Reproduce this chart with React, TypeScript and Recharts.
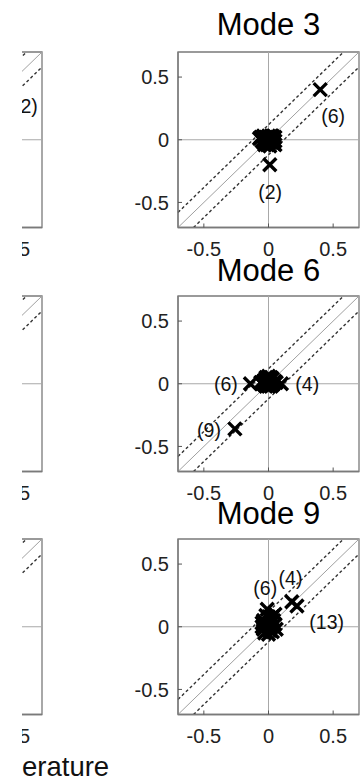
import React from "react"
import { ReferenceArea, ReferenceLine, Scatter, ScatterChart, XAxis, YAxis } from "recharts"

// panel titles and shared tick values
const modeTitles = ["Mode 3", "Mode 6", "Mode 9"]
const axisTicks = [-0.5, 0, 0.5]
const axisDomain = [-0.7, 0.7]

// y = x and the +/- band around it
const identityLine = [{ x: -0.7, y: -0.7 }, { x: 0.7, y: 0.7 }]
const upperBand = [{ x: -0.7, y: -0.58 }, { x: 0.58, y: 0.7 }]
const lowerBand = [{ x: -0.58, y: -0.7 }, { x: 0.7, y: 0.58 }]

// mode 3
const mode3Points = [
  { x: 0, y: 0 }, { x: -0.06, y: 0.02 }, { x: 0.05, y: 0.02 }, { x: -0.04, y: -0.02 },
  { x: 0.04, y: -0.03 }, { x: 0.02, y: 0.03 }, { x: -0.02, y: 0.02 }, { x: 0.03, y: -0.01 },
  { x: -0.07, y: 0.01 }, { x: 0.01, y: -0.05 }, { x: -0.03, y: -0.04 }, { x: 0.05, y: -0.01 },
  { x: -0.05, y: -0.01 }, { x: 0.0, y: 0.03 }, { x: 0.0, y: -0.03 }, { x: 0.03, y: 0.03 },
  { x: -0.04, y: 0.03 }, { x: 0.05, y: -0.04 }, { x: -0.01, y: -0.04 }, { x: 0.02, y: -0.02 },
  { x: -0.02, y: 0.0 }, { x: 0.01, y: 0.01 },
  { x: 0.4, y: 0.4 }, { x: 0.01, y: -0.2 },
]
const mode3Labels = [
  { x: 0.5, y: 0.19, text: "(6)" },
  { x: 0.013, y: -0.42, text: "(2)" },
]

// mode 6
const mode6Points = [
  { x: 0, y: 0 }, { x: -0.04, y: 0.02 }, { x: 0.05, y: 0.02 }, { x: 0.02, y: 0.05 },
  { x: -0.02, y: 0.05 }, { x: 0.03, y: -0.01 }, { x: -0.03, y: -0.01 }, { x: 0.01, y: 0.03 },
  { x: 0.04, y: 0.0 }, { x: -0.05, y: 0.0 }, { x: 0.0, y: -0.02 }, { x: -0.01, y: 0.02 },
  { x: 0.03, y: 0.04 }, { x: -0.03, y: 0.03 }, { x: 0.06, y: 0.01 }, { x: -0.06, y: 0.01 },
  { x: 0.02, y: -0.02 }, { x: -0.02, y: -0.02 }, { x: 0.0, y: 0.06 },
  { x: -0.14, y: 0 }, { x: 0.1, y: 0 }, { x: -0.26, y: -0.36 },
]
const mode6Labels = [
  { x: -0.33, y: 0, text: "(6)" },
  { x: 0.3, y: 0, text: "(4)" },
  { x: -0.46, y: -0.37, text: "(9)" },
]

// mode 9
const mode9Points = [
  { x: 0, y: 0 }, { x: -0.05, y: 0 }, { x: 0.05, y: 0.02 }, { x: -0.01, y: 0.14 },
  { x: 0.05, y: 0.1 }, { x: 0.02, y: 0.05 }, { x: -0.03, y: -0.05 }, { x: 0.03, y: -0.04 },
  { x: 0, y: -0.06 }, { x: -0.04, y: 0.05 }, { x: 0.06, y: -0.02 }, { x: 0.0, y: 0.08 },
  { x: -0.02, y: 0.02 }, { x: 0.02, y: 0.0 }, { x: -0.04, y: -0.02 }, { x: 0.04, y: 0.05 },
  { x: 0.01, y: -0.03 }, { x: -0.02, y: 0.09 }, { x: 0.03, y: 0.08 }, { x: -0.05, y: 0.03 },
  { x: 0.18, y: 0.2 }, { x: 0.22, y: 0.165 },
]
const mode9Labels = [
  { x: 0.17, y: 0.39, text: "(4)" },
  { x: -0.025, y: 0.31, text: "(6)" },
  { x: 0.45, y: 0.04, text: "(13)" },
]

// left column (mostly cut off)
const leftPoints = [{ x: 0.35, y: 0.27 }]
const leftLabels = [{ x: 0.576, y: 0.27, text: "(2)" }]

const panels = [
  { title: modeTitles[0], points: mode3Points, labels: mode3Labels },
  { title: modeTitles[1], points: mode6Points, labels: mode6Labels },
  { title: modeTitles[2], points: mode9Points, labels: mode9Labels },
]

const rowTops = [0.3, 244, 487.3]
const titleBaselines = [36, 281.7, 525]
const font = "'Liberation Sans', Arial, sans-serif"

const Cross = (props: any) => {
  const { cx, cy } = props
  const s = 6.5
  return (
    <path
      d={`M${cx - s},${cy - s}L${cx + s},${cy + s}M${cx - s},${cy + s}L${cx + s},${cy - s}`}
      stroke="#000"
      strokeWidth={3.4}
      fill="none"
    />
  )
}

const PointLabel = (props: any) => {
  const { cx, cy, payload } = props
  return (
    <text x={cx} y={cy} textAnchor="middle" dominantBaseline="central" fontSize={19.5} fontFamily={font} fill="#111">
      {payload.text}
    </text>
  )
}

const tickStyle = { fontSize: 20, fontFamily: font, fill: "#222" }
const frame = "#7a7a7a"

function Panel({ points, labels }: { points: any[]; labels: any[] }) {
  return (
    <ScatterChart width={360} height={272.5} margin={{ top: 52, right: 1, bottom: 15, left: 0 }}>
      <XAxis
        type="number"
        dataKey="x"
        domain={axisDomain}
        ticks={axisTicks}
        allowDataOverflow
        height={30}
        tickSize={-4}
        tickMargin={18}
        tick={tickStyle}
        axisLine={{ stroke: frame, strokeWidth: 1.3 }}
        tickLine={{ stroke: "#555" }}
      />
      <YAxis
        type="number"
        dataKey="y"
        domain={axisDomain}
        ticks={axisTicks}
        allowDataOverflow
        width={178}
        tickSize={-4}
        tickMargin={13}
        tick={tickStyle}
        axisLine={{ stroke: frame, strokeWidth: 1.3 }}
        tickLine={{ stroke: "#555" }}
      />
      <ReferenceArea x1={-0.7} x2={0.7} y1={-0.7} y2={0.7} fill="none" stroke={frame} strokeWidth={1.3} />
      <ReferenceLine x={0} stroke="#a8a8a8" strokeWidth={1} />
      <ReferenceLine y={0} stroke="#a8a8a8" strokeWidth={1} />
      <ReferenceLine segment={identityLine} stroke="#a0a0a0" strokeWidth={1} />
      <ReferenceLine segment={upperBand} stroke="#333" strokeWidth={1.4} strokeDasharray="3 2.5" />
      <ReferenceLine segment={lowerBand} stroke="#333" strokeWidth={1.4} strokeDasharray="3 2.5" />
      <Scatter data={points} shape={Cross} isAnimationActive={false} />
      <Scatter data={labels} shape={PointLabel} isAnimationActive={false} />
    </ScatterChart>
  )
}

export default function App() {
  return (
    <div style={{ position: "absolute", left: 0, top: 0, width: 360, height: 779, overflow: "hidden", background: "#fff" }}>
      {/* left column, clipped so only its right edge shows */}
      <div style={{ position: "absolute", left: 22, top: 0, width: 100, height: 779, overflow: "hidden" }}>
        {rowTops.map((top, i) => (
          <div key={i} style={{ position: "absolute", left: -339, top }}>
            <Panel points={i === 0 ? leftPoints : []} labels={i === 0 ? leftLabels : []} />
          </div>
        ))}
        <div style={{ position: "absolute", left: 0, top: 755, fontSize: 27.5, lineHeight: "24px", fontFamily: font, color: "#111", whiteSpace: "nowrap" }}>
          erature
        </div>
      </div>

      {panels.map((p, i) => (
        <div key={p.title} style={{ position: "absolute", left: 0, top: rowTops[i] }}>
          <Panel points={p.points} labels={p.labels} />
        </div>
      ))}

      {panels.map((p, i) => (
        <div
          key={"t" + p.title}
          style={{
            position: "absolute",
            left: 168.5,
            width: 200,
            top: titleBaselines[i] - 20.8,
            textAlign: "center",
            fontSize: 31,
            lineHeight: "20px",
            fontFamily: font,
            color: "#000",
          }}
        >
          {p.title}
        </div>
      ))}
    </div>
  )
}
